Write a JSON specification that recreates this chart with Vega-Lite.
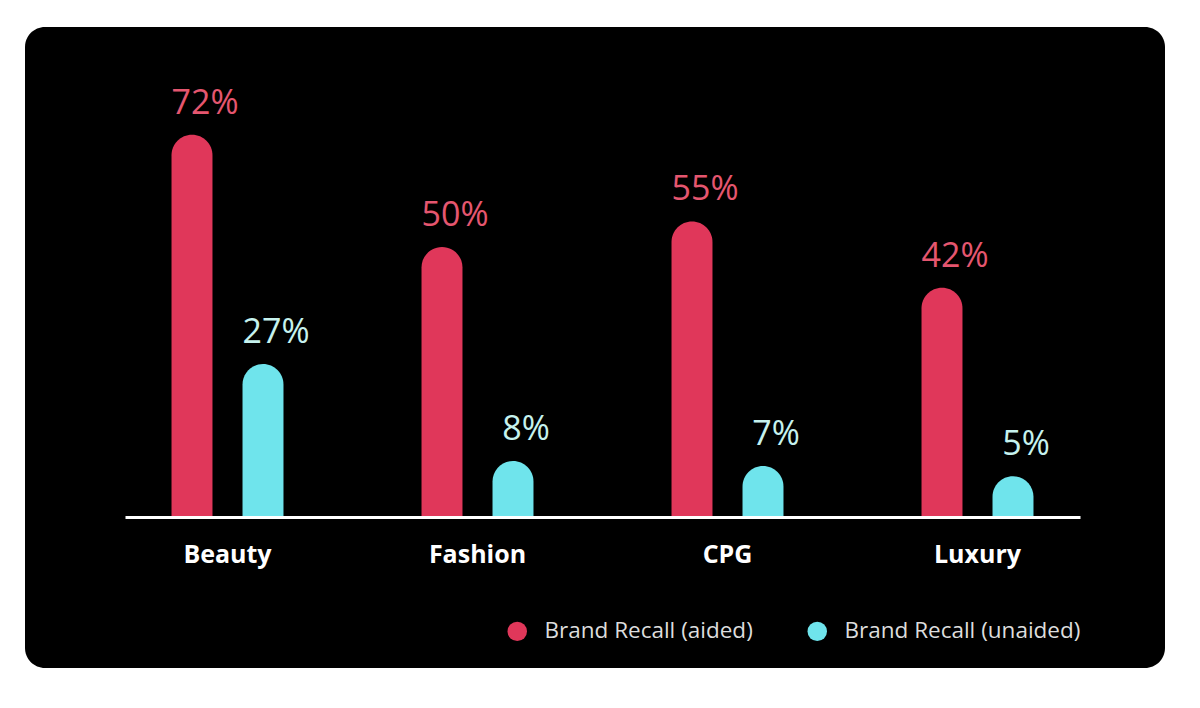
{
  "$schema": "https://vega.github.io/schema/vega-lite/v6.json",
  "width": 1140,
  "height": 641,
  "autosize": "none",
  "padding": {"left": 25, "top": 27, "right": 35, "bottom": 40},
  "background": "white",
  "view": {"fill": "black", "cornerRadius": 20, "stroke": null},
  "data": {
    "values": [
      {"category": "Beauty", "metric": "Brand Recall (aided)", "value": 0.72},
      {"category": "Beauty", "metric": "Brand Recall (unaided)", "value": 0.27},
      {"category": "Fashion", "metric": "Brand Recall (aided)", "value": 0.50},
      {"category": "Fashion", "metric": "Brand Recall (unaided)", "value": 0.08},
      {"category": "CPG", "metric": "Brand Recall (aided)", "value": 0.55},
      {"category": "CPG", "metric": "Brand Recall (unaided)", "value": 0.07},
      {"category": "Luxury", "metric": "Brand Recall (aided)", "value": 0.42},
      {"category": "Luxury", "metric": "Brand Recall (unaided)", "value": 0.05}
    ]
  },
  "encoding": {
    "x": {
      "field": "category",
      "type": "nominal",
      "sort": ["Beauty", "Fashion", "CPG", "Luxury"],
      "scale": {"range": [100, 1055], "paddingInner": 0.2, "paddingOuter": 0.01},
      "axis": {
        "title": null,
        "offset": -151,
        "domain": true,
        "domainColor": "white",
        "domainWidth": 3,
        "ticks": false,
        "labelAngle": 0,
        "labelPadding": 25,
        "labelFont": "Open Sans",
        "labelFontSize": 25,
        "labelFontWeight": "bold",
        "labelColor": "white",
        "zindex": 1
      }
    },
    "xOffset": {
      "field": "metric",
      "type": "nominal",
      "sort": ["Brand Recall (aided)", "Brand Recall (unaided)"],
      "scale": {"paddingInner": 0.423, "paddingOuter": 0.62}
    },
    "y": {
      "field": "value",
      "type": "quantitative",
      "scale": {"domain": [-0.03, 0.8], "range": [490, 67], "nice": false, "zero": false},
      "axis": null
    }
  },
  "layer": [
    {
      "mark": {"type": "bar", "cornerRadiusTopLeft": 20.5, "cornerRadiusTopRight": 20.5},
      "encoding": {
        "y2": {"datum": -0.03},
        "color": {
          "field": "metric",
          "type": "nominal",
          "sort": ["Brand Recall (aided)", "Brand Recall (unaided)"],
          "scale": {"range": ["#e0375a", "#6fe4ec"]},
          "legend": {
            "title": null,
            "orient": "none",
            "legendX": 481,
            "legendY": 593,
            "direction": "horizontal",
            "symbolType": "circle",
            "symbolSize": 380,
            "symbolStrokeWidth": 0,
            "symbolOpacity": 1,
            "labelFont": "Open Sans",
            "labelFontSize": 22.5,
            "labelColor": "#dddddd",
            "labelOffset": 16,
            "labelLimit": 400,
            "columnPadding": 53
          }
        }
      }
    },
    {
      "mark": {"type": "text", "font": "Open Sans", "fontSize": 34, "baseline": "middle", "align": "center", "dx": 13, "dy": -31},
      "encoding": {
        "text": {"field": "value", "type": "quantitative", "format": ".0%"},
        "color": {
          "condition": {"test": "datum.metric === 'Brand Recall (aided)'", "value": "#e5566f"},
          "value": "#c6f2ee"
        }
      }
    }
  ]
}
